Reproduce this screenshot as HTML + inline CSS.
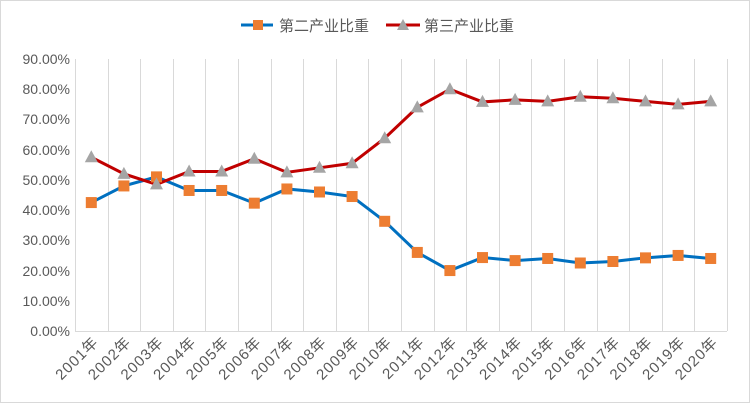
<!DOCTYPE html><html><head><meta charset="utf-8"><style>body{margin:0;background:#fff}svg{display:block}text{font-family:"Liberation Sans","Noto Sans CJK SC",sans-serif;fill:#595959}</style></head><body>
<svg id="s" width="750" height="403" xmlns="http://www.w3.org/2000/svg">
<rect x="0.5" y="0.5" width="749" height="402" fill="#fff" stroke="#d9d9d9"/>
<g id="grid" stroke="#d9d9d9" stroke-width="1"></g>
<line x1="75" y1="331.5" x2="727" y2="331.5" stroke="#d9d9d9"/>
<g font-size="14" text-anchor="end">
<text x="70" y="336">0.00%</text><text x="70" y="306">10.00%</text><text x="70" y="276">20.00%</text><text x="70" y="245">30.00%</text><text x="70" y="215">40.00%</text><text x="70" y="185">50.00%</text><text x="70" y="155">60.00%</text><text x="70" y="124">70.00%</text><text x="70" y="94">80.00%</text><text x="70" y="64">90.00%</text>
</g>
<g id="xl" font-size="15" letter-spacing="1" text-anchor="end">
<text>2001年</text><text>2002年</text><text>2003年</text><text>2004年</text><text>2005年</text><text>2006年</text><text>2007年</text><text>2008年</text><text>2009年</text><text>2010年</text><text>2011年</text><text>2012年</text><text>2013年</text><text>2014年</text><text>2015年</text><text>2016年</text><text>2017年</text><text>2018年</text><text>2019年</text><text>2020年</text>
</g>
<g id="series"></g>
<line x1="241" y1="25" x2="273" y2="25" stroke="#0070c0" stroke-width="3"/>
<rect x="253" y="20" width="10" height="10" fill="#ed7d31"/>
<text x="279" y="31" font-size="15">第二产业比重</text>
<line x1="386" y1="25" x2="420" y2="25" stroke="#c00000" stroke-width="3"/>
<polygon points="403,19 409,30 397,30" fill="#a5a5a5"/>
<text x="424" y="31" font-size="15">第三产业比重</text>
</svg>
<script>
var ns="http://www.w3.org/2000/svg";
function X(i){return 91.3+32.6*i}
function Y(v){return 331-3.022*v}
var g=document.getElementById('grid');
for(var i=0;i<=20;i++){var l=document.createElementNS(ns,'line');var x=Math.round(75+32.6*i)+0.5;l.setAttribute('x1',x);l.setAttribute('x2',x);l.setAttribute('y1',59);l.setAttribute('y2',331);g.appendChild(l);}
var t=document.getElementById('xl').children;
for(var i=0;i<t.length;i++){var x=X(i)+8,y=343;t[i].setAttribute('x',x);t[i].setAttribute('y',y);t[i].setAttribute('transform','rotate(-45 '+x+' '+y+')');}
var a=[42.5,48,51,46.5,46.5,42.3,47,46,44.5,36.3,26,20,24.3,23.3,24,22.5,23,24.2,25,24];
var b=[57.5,52,48.5,52.8,52.8,57,52.5,54,55.5,63.8,74,80,75.8,76.5,76,77.5,77,76,75,76];
var s=document.getElementById('series');
function line(d,c){var p=document.createElementNS(ns,'polyline');p.setAttribute('points',d.map(function(v,i){return X(i)+','+Y(v)}).join(' '));p.setAttribute('fill','none');p.setAttribute('stroke',c);p.setAttribute('stroke-width','3');s.appendChild(p);}
line(a,'#0070c0');line(b,'#c00000');
a.forEach(function(v,i){var r=document.createElementNS(ns,'rect');r.setAttribute('x',X(i)-5.5);r.setAttribute('y',Y(v)-5.5);r.setAttribute('width',11);r.setAttribute('height',11);r.setAttribute('fill','#ed7d31');s.appendChild(r);});
b.forEach(function(v,i){var p=document.createElementNS(ns,'polygon');var x=X(i),y=Y(v);p.setAttribute('points',x+','+(y-7)+' '+(x+6.5)+','+(y+5)+' '+(x-6.5)+','+(y+5));p.setAttribute('fill','#a5a5a5');s.appendChild(p);});
</script>
</body></html>
